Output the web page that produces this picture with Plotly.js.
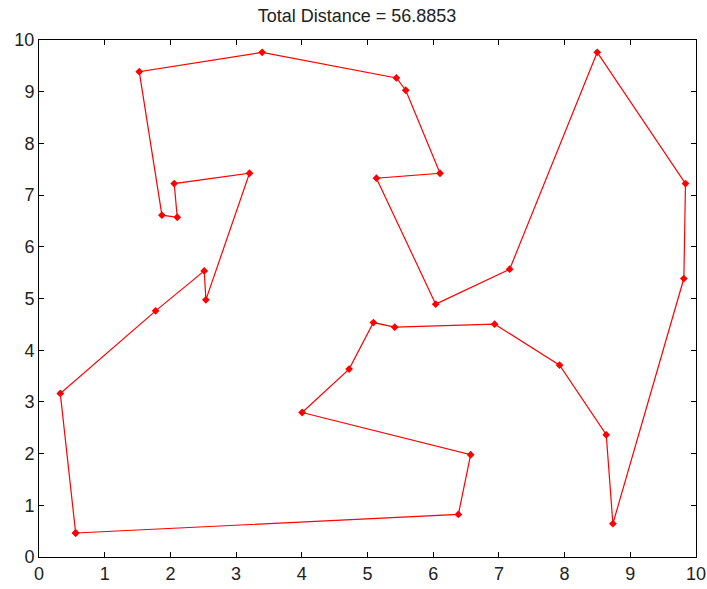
<!DOCTYPE html>
<html>
<head>
<meta charset="utf-8">
<script src="https://cdn.plot.ly/plotly-3.0.1.min.js"></script>
<style>html,body{margin:0;padding:0;background:#fff;}#chart{width:707px;height:589px;}</style>
</head>
<body>
<div id="chart"></div>
<script>
var tourX = [0.558, 6.383, 6.570, 4.005, 4.720, 5.090, 5.414, 6.935, 7.924, 8.634, 8.735, 9.815, 9.840, 8.497, 7.164, 6.038, 5.136, 6.104, 5.582, 5.440, 3.397, 1.526, 1.871, 2.104, 2.058, 3.204, 2.540, 2.515, 1.775, 0.324, 0.558];
var tourY = [0.464, 0.824, 1.978, 2.795, 3.634, 4.535, 4.446, 4.504, 3.711, 2.364, 0.644, 5.386, 7.222, 9.762, 5.567, 4.891, 7.327, 7.423, 9.028, 9.266, 9.762, 9.387, 6.611, 6.572, 7.222, 7.423, 4.974, 5.534, 4.761, 3.163, 0.464];
var titleText = "Total Distance = 56.8853";
var tickVals = [0,1,2,3,4,5,6,7,8,9,10];

var axisCommon = {
  range: [0, 10],
  tickvals: tickVals,
  ticktext: tickVals.map(String),
  ticks: 'inside',
  ticklen: 5,
  tickwidth: 1,
  tickcolor: '#000',
  showline: true,
  linecolor: '#000',
  linewidth: 1,
  mirror: 'ticks',
  showgrid: false,
  zeroline: false,
  tickfont: {family: 'Liberation Sans, Arial, sans-serif', size: 18, color: '#222'}
};

var data = [{
  x: tourX,
  y: tourY,
  type: 'scatter',
  mode: 'lines+markers',
  line: {color: '#ff0000', width: 1.2},
  marker: {color: '#ff0000', symbol: 'diamond', size: 6},
  hoverinfo: 'x+y'
}];

var layout = {
  width: 707,
  height: 589,
  margin: {l: 39, r: 11, t: 40, b: 32},
  paper_bgcolor: '#fff',
  plot_bgcolor: '#fff',
  showlegend: false,
  title: {
    text: titleText,
    x: 0.505, xanchor: 'center',
    y: 1 - 16/589, yanchor: 'middle',
    font: {family: 'Liberation Sans, Arial, sans-serif', size: 18, color: '#222'}
  },
  xaxis: Object.assign({}, axisCommon, {ticklabelstandoff: 0}),
  yaxis: Object.assign({}, axisCommon, {ticklabelstandoff: 0})
};

Plotly.newPlot('chart', data, layout, {displayModeBar: false, staticPlot: true});
</script>
</body>
</html>
